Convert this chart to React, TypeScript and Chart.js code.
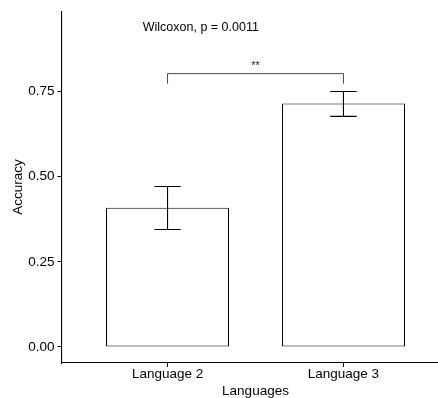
import React, { useEffect, useRef } from "react";
import { Chart, registerables } from "chart.js";

Chart.register(...registerables);

const categories = ["Language 2", "Language 3"];
const means = [0.409, 0.715];
const errLower = [0.345, 0.677];
const errUpper = [0.471, 0.75];
const yTicks = [0, 0.25, 0.5, 0.75];
const testLabel = "Wilcoxon, p = 0.0011";
const sigLabel = "**";
const xTitle = "Languages";
const yTitle = "Accuracy";

const FONT = "'Liberation Sans', Arial, Helvetica, sans-serif";

const annotations = {
  id: "annotations",
  afterDatasetsDraw(chart: any) {
    const ctx = chart.ctx;
    const xs = chart.scales.x;
    const ys = chart.scales.y;
    ctx.save();
    // error bars
    ctx.strokeStyle = "#000";
    ctx.lineWidth = 1.1;
    const capWidth = 0.15;
    categories.forEach((_, i) => {
      const cx = xs.getPixelForValue(i + 1);
      const hw = xs.getPixelForValue(i + 1 + capWidth / 2) - cx;
      const yl = ys.getPixelForValue(errLower[i]);
      const yu = ys.getPixelForValue(errUpper[i]);
      ctx.beginPath();
      ctx.moveTo(cx, yl);
      ctx.lineTo(cx, yu);
      ctx.moveTo(cx - hw, yu);
      ctx.lineTo(cx + hw, yu);
      ctx.moveTo(cx - hw, yl);
      ctx.lineTo(cx + hw, yl);
      ctx.stroke();
    });
    // significance bracket
    const bx1 = xs.getPixelForValue(1);
    const bx2 = xs.getPixelForValue(2);
    const by = ys.getPixelForValue(0.8025);
    const tip = ys.getPixelForValue(0.773);
    ctx.strokeStyle = "#333";
    ctx.lineWidth = 0.9;
    ctx.beginPath();
    ctx.moveTo(bx1, tip);
    ctx.lineTo(bx1, by);
    ctx.lineTo(bx2, by);
    ctx.lineTo(bx2, tip);
    ctx.stroke();
    ctx.fillStyle = "#222";
    ctx.textAlign = "center";
    ctx.textBaseline = "middle";
    ctx.font = `11px ${FONT}`;
    ctx.fillText(sigLabel, (bx1 + bx2) / 2, ys.getPixelForValue(0.826));
    // test label
    ctx.fillStyle = "#000";
    ctx.textAlign = "left";
    ctx.font = `12.5px ${FONT}`;
    ctx.fillText(testLabel, xs.getPixelForValue(0.859), ys.getPixelForValue(0.937));
    ctx.restore();
  },
};

export default function App() {
  const ref = useRef<HTMLCanvasElement | null>(null);
  useEffect(() => {
    if (!ref.current) return;
    const chart = new Chart(ref.current, {
      type: "bar",
      data: {
        datasets: [
          {
            data: categories.map((_, i) => ({ x: i + 1, y: means[i] })) as any,
            backgroundColor: "#ffffff",
            borderColor: "#000000",
            borderWidth: 1.1,
            borderSkipped: false,
            barPercentage: 0.7,
            categoryPercentage: 1,
          },
        ],
      },
      options: {
        responsive: false,
        animation: false,
        devicePixelRatio: 1,
        layout: { padding: { top: 8, left: 0, right: 0, bottom: 0 } },
        plugins: { legend: { display: false }, tooltip: { enabled: false } },
        scales: {
          x: {
            type: "linear",
            min: 0.4,
            max: 2.6,
            offset: false,
            afterFit: (s: any) => {
              s.height = 35;
            },
            afterBuildTicks: (s: any) => {
              s.ticks = categories.map((_, i) => ({ value: i + 1 }));
            },
            ticks: {
              callback: (v: any) => categories[Number(v) - 1] ?? "",
              color: "#000",
              font: { family: FONT, size: 13.5, lineHeight: 1 },
              padding: 0.5,
              autoSkip: false,
              maxRotation: 0,
            },
            grid: {
              display: true,
              offset: false,
              drawOnChartArea: false,
              drawTicks: true,
              tickLength: 4,
              tickColor: "#000",
              tickWidth: 1,
            },
            border: { display: true, color: "#000", width: 1.1 },
            title: {
              display: true,
              text: xTitle,
              color: "#000",
              font: { family: FONT, size: 13.5, lineHeight: 1 },
              padding: { top: 0, bottom: 0 },
            },
          },
          y: {
            type: "linear",
            min: -0.047,
            max: 0.986,
            afterFit: (s: any) => {
              s.width = 62;
            },
            afterBuildTicks: (s: any) => {
              s.ticks = yTicks.map((v) => ({ value: v }));
            },
            ticks: {
              callback: (v: any) => Number(v).toFixed(2),
              color: "#000",
              font: { family: FONT, size: 13.5 },
              padding: 3,
              autoSkip: false,
            },
            grid: {
              display: true,
              drawOnChartArea: false,
              drawTicks: true,
              tickLength: 4.5,
              tickColor: "#000",
              tickWidth: 1,
            },
            border: { display: true, color: "#000", width: 1.1 },
            title: {
              display: true,
              text: yTitle,
              color: "#000",
              font: { family: FONT, size: 13.5, lineHeight: 1 },
              padding: { top: 12, bottom: 0 },
            },
          },
        },
      } as any,
      plugins: [annotations],
    });
    return () => chart.destroy();
  }, []);

  return (
    <div
      style={{
        position: "fixed",
        left: 0,
        top: 0,
        width: 438,
        height: 398,
        overflow: "hidden",
        background: "#fff",
      }}
    >
      <canvas ref={ref} width={449} height={398} style={{ display: "block" }} />
    </div>
  );
}
